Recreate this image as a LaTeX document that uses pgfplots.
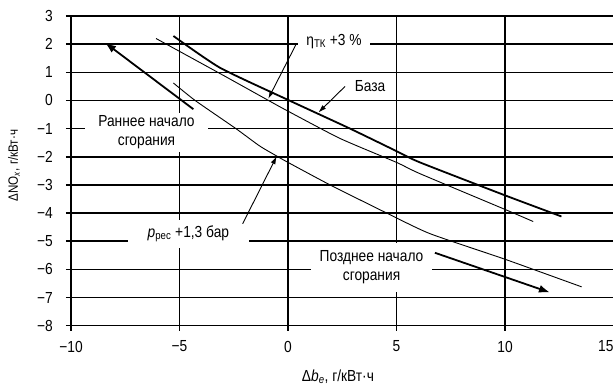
\documentclass[border=0pt]{standalone}
\usepackage{fontspec}
\setmainfont{Liberation Sans}[FakeStretch=0.86]
\usepackage{pgfplots}
\pgfplotsset{compat=1.18}
\usetikzlibrary{arrows.meta}
\newcommand\fs{\fontsize{16}{19}\selectfont}
\begin{document}
\begin{tikzpicture}
\begin{axis}[
  scale only axis, width=542.5pt, height=309.7pt,
  xmin=-10, xmax=15, ymin=-8, ymax=3,
  xtick={-10,-5,0,5,10,15},
  xticklabels={−10,−5,0,5,10,\llap{15}},
  ytick={-8,-7,...,3},
  yticklabels={−8,−7,−6,−5,−4,−3,−2,−1,0,1,2,3},
  xtick pos=bottom, ytick pos=left,
  grid=major,
  major grid style={black, line width=1.5pt},
  axis line style={black, line width=1.5pt},
  tick style={black, line width=1.5pt},
  major tick length=5pt,
  tick align=outside,
  xticklabel style={font=\fs, inner sep=0pt, anchor=north, yshift=-10pt},
  yticklabel style={font=\fs, inner sep=0pt, anchor=east, xshift=-13pt},
  xlabel={Δ\textit{b}\textsubscript{\textit{e}}, г/кВт·ч},
  ylabel={ΔNO\textsubscript{\textit{x}}, г/кВт·ч},
  xlabel style={font=\fs, at={(rel axis cs:0.492,0)}, anchor=center, yshift=-51pt},
  ylabel style={font=\fontsize{13.5}{16}\selectfont, at={(rel axis cs:0,0.517)}, anchor=center, yshift=57pt},
  clip=false,
]
% Base
\addplot[black, line width=1.8pt, smooth, tension=0.35] coordinates {
 (-5.28,2.29) (-3.13,1.16) (0,0.02) (2.86,-1.0) (5,-1.80) (6.08,-2.2) (10,-3.37) (12.6,-4.12)};
% eta_TK +3%
\addplot[black, line width=0.9pt, smooth, tension=0.35] coordinates {
 (-6.08,2.2) (-3,0.9) (-0.9,0.0) (0,-0.38) (2.4,-1.35) (5,-2.2) (6.08,-2.6) (10,-3.87) (11.3,-4.3)};
% p_rec +1.3 bar
\addplot[black, line width=0.9pt, smooth, tension=0.35] coordinates {
 (-5.28,0.62) (-4.28,0) (-2.4,-1) (-1.3,-1.62) (-0.46,-2.0) (0,-2.2) (1.94,-3) (4.55,-4) (6.54,-4.73) (10,-5.64) (13.53,-6.62)};
% text boxes
\node[fill=white, align=center, inner xsep=13pt, inner ysep=3pt, font=\fs] at (axis cs:-6.52,-1.14) {Раннее начало\\сгорания};
\node[fill=white, align=center, inner xsep=9pt, inner ysep=8pt, font=\fs] at (axis cs:3.85,-5.93) {Позднее начало\\сгорания};
\node[fill=white, inner xsep=20pt, inner ysep=6pt, font=\fs] at (axis cs:-4.59,-4.74) {\textit{p}\textsubscript{рес} +1,3 бар};
\node[fill=white, inner xsep=8pt, inner ysep=4pt, font=\fs] at (axis cs:2.12,2.1) {η\textsubscript{ТК} +3 \%};
\node[font=\fs] at (axis cs:3.78,0.51) {База};
% annotation arrows
\draw[-{Latex[length=8pt,width=5pt]}, line width=0.9pt] (axis cs:0.37,1.99) -- (axis cs:-0.91,0.06);
\draw[-{Latex[length=8pt,width=5pt]}, line width=0.9pt] (axis cs:2.63,0.5) -- (axis cs:1.4,-0.43);
\draw[-{Latex[length=8pt,width=5pt]}, line width=0.9pt] (axis cs:-2.09,-4.38) -- (axis cs:-0.52,-1.98);
% direction arrows
\draw[-{Latex[length=11pt,width=8pt]}, line width=1.8pt] (axis cs:-4.36,-0.31) -- (axis cs:-8.43,2.05);
\draw[-{Latex[length=11pt,width=8pt]}, line width=1.8pt] (axis cs:6.77,-5.41) -- (axis cs:12.07,-6.82);
\end{axis}
\pgfresetboundingbox
\useasboundingbox (-71pt,-61.3pt) rectangle (542pt,325.7pt);
\end{tikzpicture}
\end{document}
